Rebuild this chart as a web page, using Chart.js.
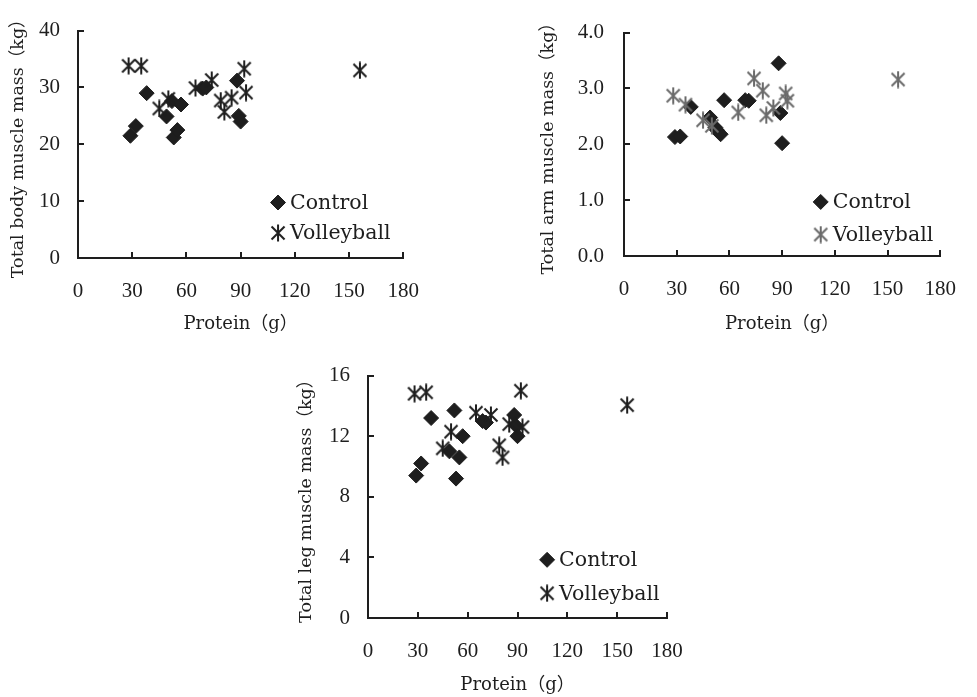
<!DOCTYPE html>
<html>
<head>
<meta charset="utf-8">
<script src="https://cdn.jsdelivr.net/npm/chart.js@4.4.1/dist/chart.umd.min.js"></script>
<style>
  body { margin: 0; background: #fff; width: 977px; height: 697px; position: relative; overflow: hidden; }
  .box { position: absolute; }
</style>
</head>
<body>
<div class="box" style="left:0;top:0;width:440px;height:345px"><canvas id="bodyChart"></canvas></div>
<div class="box" style="left:530px;top:0;width:447px;height:345px"><canvas id="armChart"></canvas></div>
<div class="box" style="left:288px;top:345px;width:420px;height:352px"><canvas id="legChart"></canvas></div>
<script>
// protein intake (g) per subject
const controlProtein = [29, 32, 38, 49, 52, 53, 55, 57, 69, 71, 88, 89, 90];
const volleyProtein = [28, 35, 45, 50, 65, 74, 79, 81, 85, 92, 93, 156];

// muscle mass (kg)
const controlBody = [21.5, 23.2, 29.0, 24.9, 27.6, 21.2, 22.5, 27.0, 29.8, 30.0, 31.2, 25.0, 24.0];
const volleyBody = [33.8, 33.8, 26.3, 28.0, 29.9, 31.3, 27.7, 25.7, 28.2, 33.3, 29.1, 33.0];

const controlArm = [2.13, 2.14, 2.67, 2.48, 2.30, 2.25, 2.18, 2.79, 2.79, 2.78, 3.45, 2.56, 2.02];
const volleyArm = [2.87, 2.71, 2.43, 2.33, 2.57, 3.18, 2.96, 2.52, 2.65, 2.91, 2.78, 3.16];

const controlLeg = [9.4, 10.2, 13.2, 11.0, 13.7, 9.2, 10.6, 12.0, 13.0, 12.9, 13.4, 12.7, 12.0];
const volleyLeg = [14.8, 14.9, 11.2, 12.3, 13.55, 13.4, 11.4, 10.6, 12.8, 15.0, 12.6, 14.05];

// tick labels
const proteinTicks = [0, 30, 60, 90, 120, 150, 180];
const bodyTicks = [0, 10, 20, 30, 40];
const armTicks = [0, 1, 2, 3, 4];
const legTicks = [0, 4, 8, 12, 16];

const INK = '#1e1e1e';
const tickFont = { family: '"Liberation Serif", serif', size: 21 };
const yTitleFont = { family: '"DejaVu Serif", "Noto Sans CJK JP", serif', size: 17.5 };
const xTitleFont = { family: '"DejaVu Serif", "Noto Sans CJK JP", serif', size: 18 };

const toPoints = (xs, ys) => xs.map((x, i) => ({ x, y: ys[i] }));

// excel-like star marker: X with a vertical bar
function starMarker(color) {
  const c = document.createElement('canvas');
  c.width = 16;
  c.height = 18;
  const g = c.getContext('2d');
  g.strokeStyle = color;
  g.lineWidth = 2;
  g.beginPath();
  g.moveTo(1.5, 2.5); g.lineTo(14.5, 15.5);
  g.moveTo(14.5, 2.5); g.lineTo(1.5, 15.5);
  g.moveTo(8, 0.5); g.lineTo(8, 17.5);
  g.stroke();
  return c;
}

// short tick marks pointing into the plot
const innerTicks = {
  id: 'innerTicks',
  afterDraw(chart) {
    const { ctx, chartArea: a, scales: { x, y } } = chart;
    ctx.save();
    ctx.strokeStyle = INK;
    ctx.lineWidth = 2;
    ctx.beginPath();
    x.ticks.forEach(t => {
      const px = Math.round(x.getPixelForValue(t.value));
      ctx.moveTo(px, a.bottom);
      ctx.lineTo(px, a.bottom - 6);
    });
    y.ticks.forEach(t => {
      const py = Math.round(y.getPixelForValue(t.value));
      ctx.moveTo(a.left, py);
      ctx.lineTo(a.left + 6, py);
    });
    ctx.stroke();
    ctx.restore();
  }
};

// legend drawn inside the plot, lower right
const insideLegend = {
  id: 'insideLegend',
  afterDraw(chart, args, opts) {
    const { ctx, chartArea: a } = chart;
    const x = a.left + opts.x * (a.right - a.left);
    ctx.save();
    ctx.font = '20.5px "DejaVu Serif", serif';
    ctx.textBaseline = 'middle';
    chart.data.datasets.forEach((ds, i) => {
      const y = a.top + opts.rows[i] * (a.bottom - a.top);
      ctx.fillStyle = ds.backgroundColor;
      ctx.strokeStyle = ds.borderColor;
      ctx.lineWidth = 1;
      Chart.helpers.drawPoint(ctx, { pointStyle: ds.pointStyle, radius: 7.5, borderWidth: 1, rotation: 0 }, x, y);
      ctx.fillStyle = INK;
      ctx.fillText(ds.label, x + 12, y + 1);
    });
    ctx.restore();
  }
};

function makeChart(id, cfg) {
  return new Chart(document.getElementById(id), {
    type: 'scatter',
    data: {
      datasets: [
        {
          label: 'Control',
          data: toPoints(controlProtein, cfg.control),
          pointStyle: 'rectRot',
          pointRadius: 7.5,
          pointHoverRadius: 7.5,
          backgroundColor: INK,
          borderColor: INK,
          borderWidth: 1,
          order: 1
        },
        {
          label: 'Volleyball',
          data: toPoints(volleyProtein, cfg.volley),
          pointStyle: starMarker(cfg.starColor),
          pointRadius: 8,
          backgroundColor: cfg.starColor,
          borderColor: cfg.starColor,
          order: 0
        }
      ]
    },
    options: {
      responsive: true,
      maintainAspectRatio: false,
      animation: false,
      layout: { padding: cfg.padding },
      plugins: {
        legend: { display: false },
        tooltip: { enabled: false },
        insideLegend: cfg.legend
      },
      scales: {
        x: {
          type: 'linear',
          min: 0,
          max: 180,
          afterBuildTicks: s => { s.ticks = proteinTicks.map(v => ({ value: v })); },
          afterFit: s => { s.height = cfg.xHeight; },
          grid: { display: false, drawTicks: false },
          border: { color: INK, width: 2 },
          ticks: { font: tickFont, color: INK, padding: 21, maxRotation: 0 },
          title: { display: true, text: 'Protein（g）', font: xTitleFont, color: INK, padding: { top: 0, bottom: cfg.xTitlePad } }
        },
        y: {
          type: 'linear',
          min: cfg.yTicks[0],
          max: cfg.yTicks[cfg.yTicks.length - 1],
          afterBuildTicks: s => { s.ticks = cfg.yTicks.map(v => ({ value: v })); },
          afterFit: s => { s.width = cfg.yWidth; },
          grid: { display: false, drawTicks: false },
          border: { color: INK, width: 2 },
          ticks: { font: tickFont, color: INK, padding: cfg.yPad, callback: cfg.yFormat },
          title: { display: true, text: cfg.yTitle, font: yTitleFont, color: INK, padding: { top: 7.5, bottom: 7.5 } }
        }
      }
    },
    plugins: [innerTicks, insideLegend]
  });
}

makeChart('bodyChart', {
  control: controlBody,
  volley: volleyBody,
  starColor: INK,
  yTicks: bodyTicks,
  yTitle: 'Total body muscle mass（kg）',
  yFormat: v => String(v),
  padding: { left: 0, top: 20, right: 31, bottom: 0 },
  yWidth: 78,
  xHeight: 87,
  yPad: 18,
  xTitlePad: 10.2,
  legend: { x: 0.615, rows: [0.756, 0.89] }
});

makeChart('armChart', {
  control: controlArm,
  volley: volleyArm,
  starColor: '#6a6a6a',
  yTicks: armTicks,
  yTitle: 'Total arm muscle mass（kg）',
  yFormat: v => Number(v).toFixed(1),
  padding: { left: 0, top: 16, right: 22, bottom: 0 },
  yWidth: 94,
  xHeight: 89,
  yPad: 20,
  xTitlePad: 10.2,
  legend: { x: 0.622, rows: [0.758, 0.904] }
});

makeChart('legChart', {
  control: controlLeg,
  volley: volleyLeg,
  starColor: INK,
  yTicks: legTicks,
  yTitle: 'Total leg muscle mass（kg）',
  yFormat: v => String(v),
  padding: { left: 0, top: 27, right: 41, bottom: 0 },
  yWidth: 80,
  xHeight: 79,
  yPad: 18,
  xTitlePad: 1.2,
  legend: { x: 0.599, rows: [0.76, 0.898] }
});
</script>
</body>
</html>
